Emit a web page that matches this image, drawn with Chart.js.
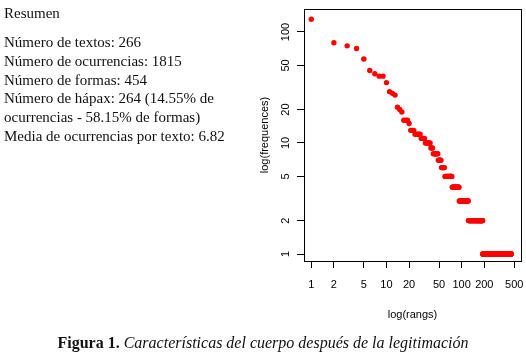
<!DOCTYPE html>
<html>
<head>
<meta charset="utf-8">
<script src="https://cdn.jsdelivr.net/npm/chart.js@4"></script>
<style>
  html, body { margin: 0; padding: 0; background: #fff; }
  #page { position: relative; width: 526px; height: 359px; overflow: hidden; }
  #rendcont { position: absolute; left: 0; top: 0; }
  .resumen { position: absolute; left: 4px; font-family: "Liberation Serif", "DejaVu Serif", serif; font-size: 15px; line-height: 18.8px; color: #111; }
  #caption { position: absolute; left: 0; top: 334px; width: 526px; text-align: center; font-family: "Liberation Serif", serif; font-size: 16px; line-height: 18px; color: #111; }
</style>
</head>
<body>
<div id="page">
  <canvas id="rendcont" width="526" height="359"></canvas>
  <div class="resumen" style="top:4px">Resumen</div>
  <div class="resumen" style="top:33px">
    Número de textos: 266<br>
    Número de ocurrencias: 1815<br>
    Número de formas: 454<br>
    Número de hápax: 264 (14.55% de<br>
    ocurrencias - 58.15% de formas)<br>
    Media de ocurrencias por texto: 6.82
  </div>
  <div id="caption"><b>Figura 1.</b> <i>Características del cuerpo después de la legitimación</i></div>
</div>
<script>
// frequency levels, highest rank first, and how many forms share each level
let frecuencias = [130, 80, 75, 71, 57, 45, 42, 40, 35, 29, 28, 27, 21, 20, 19, 16, 15, 13, 12, 11, 10, 9, 8, 7, 6, 5, 4, 3, 2, 1];
let nFormas     = [1,   1,  1,  1,  1,  1,  1,  2,  1,  1,  1,  1,  1,  1,  1,  3,  1,  3,  5,  4,  6,  3, 7, 5, 6, 15, 18, 30, 68, 264];
let xTicks = [1, 2, 5, 10, 20, 50, 100, 200, 500];
let yTicks = [1, 2, 5, 10, 20, 50, 100];

let pts = [];
let rango = 1;
frecuencias.forEach((f, i) => {
    for (let k = 0; k < nFormas[i]; k++) {
        pts.push({ x: rango, y: f });
        rango++;
    }
});

let axFont = { family: "'Liberation Sans Narrow', 'Liberation Sans', Arial, sans-serif", size: 11 };

let boxPlugin = {
    id: 'box',
    afterDraw(chart) {
        let a = chart.chartArea;
        let c = chart.ctx;
        c.save();
        c.strokeStyle = '#000';
        c.lineWidth = 1;
        c.strokeRect(Math.round(a.left) + 0.5, Math.round(a.top) + 0.5, Math.round(a.right - a.left), Math.round(a.bottom - a.top));
        c.restore();
    }
};

let cont = document.getElementById("rendcont").getContext("2d");
let cht = new Chart(cont, {
    type: 'scatter',
    data: {
        datasets: [{
            data: pts,
            backgroundColor: '#ff0000',
            borderWidth: 0,
            pointRadius: 2.7
        }]
    },
    options: {
        responsive: false,
        animation: false,
        layout: { padding: { left: 250, top: 9, right: 5, bottom: 28 } },
        plugins: { legend: { display: false }, tooltip: { enabled: false } },
        scales: {
            x: {
                type: 'logarithmic', min: 0.8, max: 615,
                afterBuildTicks: (ax) => { ax.ticks = xTicks.map(v => ({ value: v })); },
                afterFit: (ax) => { ax.height = 70; ax.paddingLeft = 0; ax.paddingRight = 0; },
                ticks: { callback: (v) => String(v), font: axFont, color: '#000', padding: 10, autoSkip: false, minRotation: 0, maxRotation: 0 },
                grid: { drawOnChartArea: false, tickLength: 7, color: '#000' },
                border: { color: '#000' },
                title: { display: true, text: 'log(rangs)', font: axFont, color: '#000', padding: { bottom: 9 } }
            },
            y: {
                type: 'logarithmic', min: 0.865, max: 161,
                afterBuildTicks: (ax) => { ax.ticks = yTicks.map(v => ({ value: v })); },
                afterFit: (ax) => { ax.width = 54; ax.paddingTop = 0; ax.paddingBottom = 0; },
                ticks: { callback: (v) => String(v), font: axFont, color: '#000', padding: 1.5, autoSkip: false, minRotation: 90, maxRotation: 90, crossAlign: 'center' },
                grid: { drawOnChartArea: false, tickLength: 7, color: '#000' },
                border: { color: '#000' },
                title: { display: true, text: 'log(frequences)', font: axFont, color: '#000', padding: { top: 8.4 } }
            }
        }
    },
    plugins: [boxPlugin]
});
</script>
</body>
</html>
